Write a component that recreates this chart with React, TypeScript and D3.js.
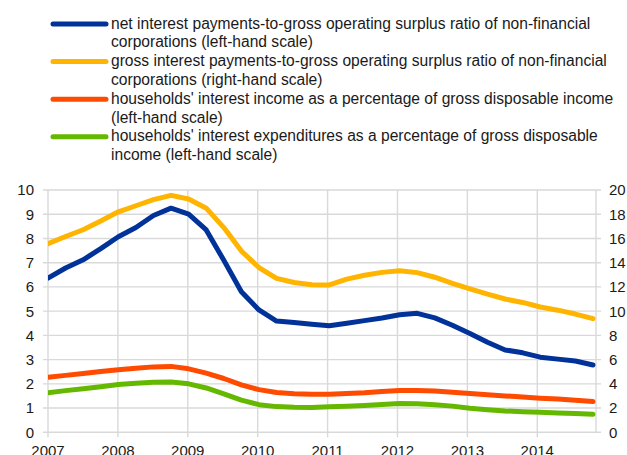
import React from "react";
import * as d3 from "d3";

const quarters = [
  "2007Q1","2007Q2","2007Q3","2007Q4","2008Q1","2008Q2","2008Q3","2008Q4",
  "2009Q1","2009Q2","2009Q3","2009Q4","2010Q1","2010Q2","2010Q3","2010Q4",
  "2011Q1","2011Q2","2011Q3","2011Q4","2012Q1","2012Q2","2012Q3","2012Q4",
  "2013Q1","2013Q2","2013Q3","2013Q4","2014Q1","2014Q2","2014Q3","2014Q4",
];

// left-hand scale
const netInterestNFC = [
  6.36, 6.78, 7.12, 7.58, 8.07, 8.45, 8.95, 9.25,
  9.0, 8.35, 7.1, 5.8, 5.05, 4.59, 4.53, 4.46,
  4.4, 4.5, 4.61, 4.72, 4.85, 4.91, 4.72, 4.42,
  4.08, 3.72, 3.4, 3.28, 3.1, 3.02, 2.94, 2.78,
];
// right-hand scale
const grossInterestNFC = [
  15.56, 16.16, 16.72, 17.44, 18.2, 18.7, 19.2, 19.56,
  19.26, 18.5, 16.9, 14.96, 13.6, 12.7, 12.36, 12.18,
  12.16, 12.64, 12.96, 13.2, 13.34, 13.18, 12.8, 12.3,
  11.84, 11.4, 11.0, 10.72, 10.34, 10.08, 9.76, 9.38,
];
// left-hand scale
const hhInterestIncome = [
  2.27, 2.35, 2.43, 2.51, 2.58, 2.64, 2.7, 2.72,
  2.62, 2.44, 2.22, 1.96, 1.76, 1.64, 1.59, 1.57,
  1.57, 1.6, 1.63, 1.68, 1.73, 1.73, 1.7, 1.65,
  1.6, 1.55, 1.5, 1.46, 1.41, 1.37, 1.32, 1.27,
];
// left-hand scale
const hhInterestExpenditures = [
  1.63, 1.72, 1.8, 1.88, 1.97, 2.02, 2.07, 2.08,
  2.0, 1.83, 1.59, 1.33, 1.14, 1.06, 1.03, 1.02,
  1.05, 1.08, 1.11, 1.15, 1.19, 1.18, 1.14, 1.08,
  0.99, 0.93, 0.88, 0.85, 0.83, 0.8, 0.78, 0.74,
];

const yearTicks = [2007, 2008, 2009, 2010, 2011, 2012, 2013, 2014];
const leftTicks = [0, 1, 2, 3, 4, 5, 6, 7, 8, 9, 10];
const rightTicks = [0, 2, 4, 6, 8, 10, 12, 14, 16, 18, 20];

const legendItems = [
  { lines: ["net interest payments-to-gross operating surplus ratio of non-financial", "corporations (left-hand scale)"], color: "#003299" },
  { lines: ["gross interest payments-to-gross operating surplus ratio of non-financial", "corporations (right-hand scale)"], color: "#FFB400" },
  { lines: ["households' interest income as a percentage of gross disposable income", "(left-hand scale)"], color: "#FF4B00" },
  { lines: ["households' interest expenditures as a percentage of gross disposable", "income (left-hand scale)"], color: "#65B800" },
];

const W = 627, H = 455;
const L = 48, R = 596, T = 190, B = 432.3;
const FONT = "'Liberation Sans', Arial, sans-serif";

export default function App() {
  const x = d3.scalePoint<string>().domain(quarters).range([L, 593]);
  const xYear = d3.scaleLinear().domain([2007, 2014.84]).range([L, R]);
  const yL = d3.scaleLinear().domain([0, 10]).range([B, T]);
  const yR = d3.scaleLinear().domain([0, 20]).range([B, T]);

  const lineL = d3.line<number>().x((_, i) => x(quarters[i]) as number).y((d) => yL(d));
  const lineR = d3.line<number>().x((_, i) => x(quarters[i]) as number).y((d) => yR(d));

  const series = [
    { d: lineL(netInterestNFC), color: "#003299" },
    { d: lineR(grossInterestNFC), color: "#FFB400" },
    { d: lineL(hhInterestIncome), color: "#FF4B00" },
    { d: lineL(hhInterestExpenditures), color: "#65B800" },
  ];

  const grid = "#d9d9d9";
  const textColor = "#1a1a1a";
  const rowH = 18.8;
  const firstBase = 28.5;

  return (
    <svg width={W} height={H} style={{ position: "absolute", left: 0, top: 0, background: "#fff" }} fontFamily={FONT}>
      <rect x={0} y={0} width={W} height={H} fill="#fff" />
      <defs>
        <clipPath id="plotclip">
          <rect x={L} y={0} width={W - L} height={H} />
        </clipPath>
      </defs>

      {/* legend */}
      {legendItems.map((item, k) => {
        const base = firstBase + k * 2 * rowH;
        return (
          <g key={k}>
            <line x1={53} x2={106} y1={base - 4.5} y2={base - 4.5} stroke={item.color} strokeWidth={5} strokeLinecap="round" />
            {item.lines.map((t, j) => (
              <text key={j} x={111} y={base + j * rowH} fontSize={15.6} fill={textColor}>{t}</text>
            ))}
          </g>
        );
      })}

      {/* horizontal grid */}
      {leftTicks.map((v) => (
        <line key={"h" + v} x1={L - 5} x2={R + 5} y1={yL(v)} y2={yL(v)} stroke={grid} strokeWidth={1.4} />
      ))}
      {/* vertical grid */}
      {yearTicks.map((yr) => (
        <line key={"v" + yr} x1={xYear(yr)} x2={xYear(yr)} y1={T} y2={B + 5} stroke={grid} strokeWidth={1.4} />
      ))}
      <line x1={R} x2={R} y1={T} y2={B} stroke={grid} strokeWidth={1.4} />

      {/* left ticks */}
      {leftTicks.map((v) => (
        <text key={"l" + v} x={34} y={yL(v) + 5.4} fontSize={15} textAnchor="end" fill={textColor}>{v}</text>
      ))}
      {/* right ticks */}
      {rightTicks.map((v) => (
        <text key={"r" + v} x={609} y={yR(v) + 5.4} fontSize={15} textAnchor="start" fill={textColor}>{v}</text>
      ))}
      {/* x ticks */}
      {yearTicks.map((yr) => (
        <text key={"x" + yr} x={xYear(yr)} y={456} fontSize={15} textAnchor="middle" fill={textColor}>{yr}</text>
      ))}

      {/* series */}
      <g clipPath="url(#plotclip)">
        {series.map((s, i) => (
          <path key={i} d={s.d as string} fill="none" stroke={s.color} strokeWidth={5} strokeLinejoin="round" strokeLinecap="round" />
        ))}
      </g>
    </svg>
  );
}
